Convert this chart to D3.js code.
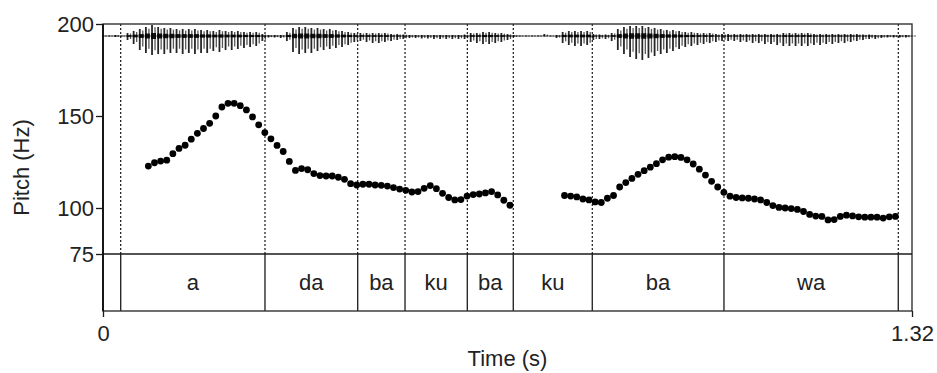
<!DOCTYPE html>
<html><head><meta charset="utf-8">
<script src="https://cdn.jsdelivr.net/npm/d3@7"></script>
<style>
html,body{margin:0;padding:0;background:#fff;}
svg{display:block;font-family:"Liberation Sans",Arial,sans-serif;}
</style></head>
<body><svg id="chart" width="937" height="373"></svg>
<script>
// ---- data ----
const timeMax = 1.32;
const yTicks = [75, 100, 150, 200];
const xTickLabels = ["0", "1.32"];
const boundaries = [0.0289, 0.2643, 0.4156, 0.4928, 0.5944, 0.6694, 0.7983, 1.0132, 1.2976];
const syllables = ["a", "da", "ba", "ku", "ba", "ku", "ba", "wa"];
const frameStep = 0.01;
const pitchStart1 = 0.074;
const pitch1 = [122.8,124.6,125.5,126.0,129.5,132.4,134.1,137.4,140.6,143.2,146.0,150.0,154.9,156.9,156.9,155.6,153.3,149.5,145.2,141.0,
  137.6,134.0,130.7,125.3,120.4,121.4,120.8,118.7,117.6,117.4,117.4,116.7,115.6,113.2,112.5,112.9,112.9,112.5,112.3,111.9,
  111.1,110.3,109.6,108.7,108.9,110.7,112.2,110.5,108.0,105.7,104.4,104.6,106.5,107.3,107.6,108.2,108.9,107.1,104.2,101.5];
const pitchStart2 = 0.753;
const pitch2 = [106.8,106.5,106.0,104.9,104.4,103.3,103.0,105.3,106.8,111.4,113.8,116.1,118.3,120.3,122.2,124.1,126.2,127.6,127.9,127.5,
  126.2,123.9,121.1,117.9,114.5,111.4,108.5,106.4,105.7,105.5,105.3,104.9,104.4,103.0,101.3,100.3,100.0,99.7,99.2,98.1,
  96.5,95.6,95.4,93.5,93.7,95.4,96.1,95.7,95.2,95.0,95.0,95.0,94.5,95.2,95.4];
// waveform envelope (arbitrary amplitude units), one value per 0.01 s from t=0
const waveUp = [0.5,0.5,1,0.5,3,5,7,9,11,9,8,8,7,7,7,7,6,6,5,6,5,5,5,4,4,4,2,1,1,1,
  4,8,9,9,8,8,7,7,6,5,4,3,3,3,3,3,3,2,2,1.5,1,1,1,1,1,1,1,1,1,1.5,
  3,3,4,4,3,3,2,1,0.5,0.5,0.5,0.5,2,0.5,1,4,5,5,5,5,2,1.5,1.5,3,7,9,10,10,10,9,
  8,7,6,6,5,4,4,3,3,3,2,2,2,2,2,2,2,2,2,2,2,3,3,3,3,3,2,2,2,2,
  2,2,2,2,1.5,1.5,1,1,1,1,1,1,0.5];
const waveDown = [0.5,0.5,1,0.5,4,8,14,17,19,18,18,17,17,18,17,18,17,17,15,16,14,14,13,12,11,10,5,1.5,1.5,2,
  5,16,18,17,17,15,14,13,12,11,9,6,5,6,7,7,6,5,4,3,2,2,2.5,2.5,3,3,3,3,3,3,
  6,7,8,8,7,6,4,1,0.5,0.5,0.5,0.5,0.5,0.5,2,7,9,10,10,9,4,3,3,5,14,18,21,23,24,22,
  20,18,17,15,13,11,10,9,8,7,6,5,5,5,6,6,7,7,8,8,9,10,10,10,10,10,9,9,8,8,
  7,7,6,5,4,3,3,2,1.5,1.5,1.5,1.5,0.5];

// ---- layout ----
const L = 103, R = 912, T = 24, B = 254, TB = 311, WB = 36;
const svg = d3.select("#chart");
const x = d3.scaleLinear().domain([0, timeMax]).range([L, R]);
const y = d3.scaleLinear().domain([75, 200]).range([B, T]);
const amp = d3.scaleLinear().domain([-24, 24]).range([WB + 24, WB - 24]);
const ink = "#1a1a1a";
const fs = 22;

// waveform baseline
svg.append("line").attr("x1", L).attr("x2", R).attr("y1", WB).attr("y2", WB)
  .attr("stroke", "#666").attr("stroke-width", 1.2);
// waveform spikes
const wg = svg.append("g");
wg.selectAll("line.main").data(waveUp).join("line").attr("class", "main")
  .attr("x1", (d, i) => x(i * frameStep)).attr("x2", (d, i) => x(i * frameStep))
  .attr("y1", d => amp(d)).attr("y2", (d, i) => amp(-waveDown[i]))
  .attr("stroke", "#000").attr("stroke-width", 1.8).attr("opacity", 0.85);
wg.selectAll("line.mid").data(waveUp).join("line").attr("class", "mid")
  .attr("x1", (d, i) => x(i * frameStep) + 3).attr("x2", (d, i) => x(i * frameStep) + 3)
  .attr("y1", d => amp(d * 0.8)).attr("y2", (d, i) => amp(-waveDown[i] * 0.75))
  .attr("stroke", "#111").attr("stroke-width", 1.3).attr("opacity", 0.7);
wg.selectAll("line.core").data(waveUp).join("line").attr("class", "core")
  .attr("x1", (d, i) => x(i * frameStep) - 1).attr("x2", (d, i) => x(i * frameStep) + 4)
  .attr("y1", WB).attr("y2", WB)
  .attr("stroke", "#000").attr("stroke-width", (d, i) => Math.min(d, waveDown[i]) * 0.55)
  .attr("opacity", 0.9);

// dashed boundaries in pitch area
svg.append("g").selectAll("line").data(boundaries).join("line")
  .attr("x1", d => x(d)).attr("x2", d => x(d)).attr("y1", T).attr("y2", B)
  .attr("stroke", "#000").attr("stroke-width", 1.1).attr("stroke-dasharray", "2,2");
// solid boundaries in tier
svg.append("g").selectAll("line").data(boundaries).join("line")
  .attr("x1", d => x(d)).attr("x2", d => x(d)).attr("y1", B).attr("y2", TB)
  .attr("stroke", ink).attr("stroke-width", 1.3);

// frame
svg.append("rect").attr("x", L).attr("y", T).attr("width", R - L).attr("height", TB - T)
  .attr("fill", "none").attr("stroke", "#333").attr("stroke-width", 1.4);
svg.append("line").attr("x1", L).attr("x2", R).attr("y1", B).attr("y2", B)
  .attr("stroke", ink).attr("stroke-width", 1.3);
svg.append("line").attr("x1", L).attr("x2", L).attr("y1", T).attr("y2", TB)
  .attr("stroke", "#000").attr("stroke-width", 1.6);

// syllable labels
const intervals = syllables.map((s, i) => ({ s, a: boundaries[i], b: boundaries[i + 1] }));
svg.append("g").selectAll("text").data(intervals).join("text")
  .attr("x", d => x((d.a + d.b) / 2)).attr("y", 290)
  .attr("text-anchor", "middle").attr("font-size", fs).attr("fill", "#222")
  .text(d => d.s);

// pitch points
const pts = pitch1.map((v, i) => ({ t: pitchStart1 + i * frameStep, v }))
  .concat(pitch2.map((v, i) => ({ t: pitchStart2 + i * frameStep, v })));
svg.append("g").selectAll("circle").data(pts).join("circle")
  .attr("cx", d => x(d.t)).attr("cy", d => y(d.v)).attr("r", 3.4).attr("fill", "#000");

// axes
const yAxis = svg.append("g").attr("transform", `translate(${L},0)`)
  .call(d3.axisLeft(y).tickValues(yTicks).tickSize(7).tickPadding(2));
yAxis.select(".domain").remove();
yAxis.selectAll("line").attr("stroke", ink).attr("stroke-width", 1.3);
yAxis.selectAll("text").attr("font-size", fs).attr("fill", "#222")
  .attr("font-family", "Liberation Sans, Arial, sans-serif");

const xAxis = svg.append("g").attr("transform", `translate(0,${TB})`)
  .call(d3.axisBottom(x).tickValues([0, timeMax]).tickSize(6).tickPadding(8)
    .tickFormat((d, i) => xTickLabels[i]));
xAxis.select(".domain").remove();
xAxis.selectAll("line").attr("stroke", ink).attr("stroke-width", 1.3);
xAxis.selectAll("text").attr("font-size", fs).attr("fill", "#222")
  .attr("font-family", "Liberation Sans, Arial, sans-serif");

svg.append("text").attr("x", (L + R) / 2).attr("y", 366).attr("text-anchor", "middle")
  .attr("font-size", fs).attr("fill", "#222").text("Time (s)");
svg.append("text").attr("transform", `translate(29,${(T + TB) / 2}) rotate(-90)`)
  .attr("text-anchor", "middle").attr("font-size", fs).attr("fill", "#222").text("Pitch (Hz)");
</script></body></html>
